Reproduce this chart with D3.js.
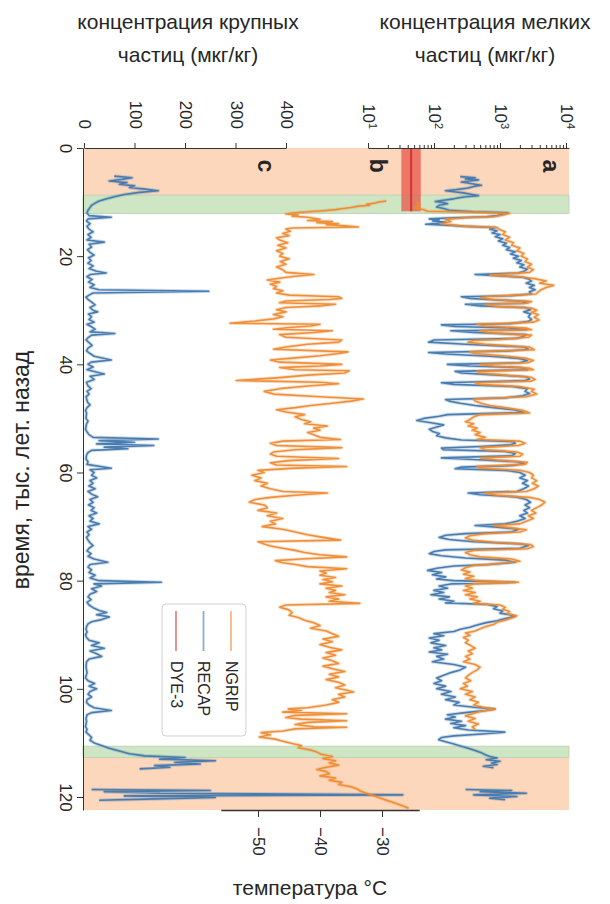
<!DOCTYPE html>
<html><head><meta charset="utf-8">
<script src="https://cdn.jsdelivr.net/npm/d3@7"></script>
<style>
body{margin:0;background:#fff;}
svg text{font-family:"Liberation Sans",Arial,sans-serif;fill:#262626;}
</style></head><body>
<svg id="chart" width="610" height="904"></svg>
<script>
// ---------- DATA ----------
const timeTicks = [0, 20, 40, 60, 80, 100, 120];
const coarseTicks = [0, 100, 200, 300, 400];
const fineTicks = [10, 100, 1000, 10000];
const tempTicks = [-50, -40, -30];
const peachBands = [[0, 8.7], [112.7, 122.4]];
const greenBands = [[8.7, 12.1], [110.6, 112.7]];
const panelLabels = ["a", "b", "c"];
const seriesNames = ["NGRIP", "RECAP", "DYE-3"];
const dye3Ages = [0, 11.7];
const dye3Range = [32, 63];
const dye3Mean = 45;

// RECAP coarse particles (µg/kg) [age ka, value]
const recapCoarse = [[5.2,60],[5.5,95],[5.8,75],[6.1,50],[6.4,85],[6.7,70],[7.0,100],[7.3,90],[7.6,120],[7.9,147],[8.2,110],[8.6,80],[9.0,60],[9.4,45],[9.8,30],[10.2,22],[10.6,15],[11.0,12],[11.5,8],[12.0,6],[12.5,10],[12.8,54],[13.1,8],[13.5,5],[14,12],[14.5,6],[15,10],[15.5,18],[16,8],[16.5,14],[17,6],[17.4,40],[17.8,10],[18.3,15],[18.8,7],[19.3,12],[19.8,20],[20.3,9],[20.8,14],[21.3,8],[21.8,18],[22.3,10],[22.8,25],[23.1,44],[23.4,12],[23.8,6],[24.3,16],[24.8,9],[25.3,20],[25.8,12],[26.2,30],[26.5,247],[26.8,18],[27.2,10],[27.6,4],[28.0,8],[28.5,15],[29,22],[29.5,12],[30.0,18],[30.3,27],[30.7,9],[31.2,15],[31.7,10],[32.2,20],[32.6,6],[33.0,14],[33.5,22],[34.0,12],[34.3,61],[34.6,15],[35.0,9],[35.5,4],[36,10],[36.5,16],[37,8],[37.5,5],[38,12],[38.5,20],[39.2,54],[39.6,14],[40,8],[40.5,18],[41,6],[41.8,40],[42.2,12],[42.8,20],[43.3,5],[44,8],[44.5,14],[45,6],[45.5,10],[46,4],[47,7],[47.5,12],[48,6],[48.5,3],[49,5],[50,4],[50.5,8],[51,5],[52,3],[52.5,6],[53,10],[53.5,18],[53.8,147],[54.1,30],[54.4,100],[54.7,25],[55.0,138],[55.3,40],[55.6,87],[55.9,15],[56.3,8],[56.8,5],[57.5,4],[58,8],[58.5,6],[59.2,54],[59.5,12],[60,20],[60.5,15],[61,25],[61.5,12],[62,18],[62.5,10],[63,22],[63.5,8],[64,15],[64.5,27],[65,12],[65.5,18],[66,9],[66.5,20],[67,14],[67.5,25],[68,10],[68.5,18],[69,12],[69.5,30],[70,8],[70.5,15],[71,6],[71.5,10],[72,5],[72.5,8],[73,12],[73.5,18],[74,10],[74.5,6],[75,14],[75.5,8],[76,20],[76.6,47],[77,12],[77.5,8],[78,15],[78.5,10],[79,22],[79.5,12],[80,30],[80.3,153],[80.6,20],[81,35],[81.5,15],[82,25],[82.5,12],[83,8],[83.5,14],[84,6],[84.5,10],[85,18],[85.5,30],[85.9,45],[86.3,25],[86.7,50],[87.2,35],[87.6,15],[88,8],[88.5,5],[89,4],[89.5,6],[90,3],[90.5,5],[91,10],[91.5,30],[92,15],[92.5,40],[93,12],[93.5,25],[94,35],[94.5,10],[95,5],[96,4],[97,6],[98,3],[98.5,8],[99,21],[99.5,10],[100,25],[100.5,12],[101,8],[101.5,15],[102,6],[102.5,5],[103,10],[103.5,20],[104,54],[104.4,15],[104.8,6],[105.5,4],[106,5],[107,3],[107.5,6],[108,4],[108.5,10],[109,15],[109.5,12],[110,20],[110.5,35],[111,50],[111.5,70],[112,90],[112.4,120],[112.7,200],[113,150],[113.3,260],[113.6,180],[113.9,230],[114.2,140],[114.5,170],[114.8,110],[115.0,null],[118.6,15],[118.8,250],[119.0,40],[119.3,150],[119.6,631],[119.8,80],[120.1,260],[120.4,120],[120.6,30]];

// NGRIP temperature (°C)
const ngripTemp = [[9.8,-29.3],[10.0,-30.5],[10.2,-31.2],[10.4,-32.5],[10.6,-32],[10.8,-34],[11.0,-35],[11.2,-36.2],[11.4,-37.5],[11.6,-39.5],[11.8,-42],[12.0,-44],[12.2,-45.5],[12.4,-43.5],[12.6,-44.5],[12.8,-42],[13.0,-41],[13.2,-40],[13.4,-42],[13.6,-38],[13.8,-40.5],[14.0,-37],[14.2,-39],[14.4,-36],[14.6,-33.8],[14.8,-44.5],[15.0,-45.5],[15.4,-44.8],[15.8,-46],[16.2,-45],[16.6,-47],[17.0,-46.5],[17.5,-45.2],[18.0,-46.8],[18.5,-45.5],[19.0,-47],[19.5,-46],[20,-46.5],[20.5,-45],[21,-46.4],[21.5,-45.5],[22,-47],[22.5,-46],[23.0,-45.5],[23.4,-41],[23.7,-44],[24.0,-46],[24.4,-48.5],[24.8,-46.5],[25.2,-48],[25.6,-47],[26.0,-47.5],[26.4,-46],[26.8,-47],[27.2,-45],[27.5,-37],[27.8,-36.5],[28.0,-38.5],[28.3,-45.5],[28.6,-46.5],[28.9,-37.5],[29.2,-40],[29.5,-45.5],[29.9,-47],[30.3,-45.5],[30.8,-47.5],[31.2,-46],[31.6,-47.5],[32.0,-50.5],[32.4,-54.5],[32.6,-40],[32.9,-41.5],[33.2,-45],[33.5,-47.5],[33.8,-38],[34.1,-41],[34.5,-46.5],[35.0,-45.5],[35.5,-36.5],[35.9,-37],[36.3,-42],[36.8,-45.5],[37.2,-47.5],[37.7,-35.5],[38.0,-37],[38.4,-40],[38.8,-44],[39.2,-48],[39.6,-46.5],[40.0,-36.5],[40.3,-40],[40.6,-46.5],[41.0,-44],[41.2,-35.3],[41.6,-36],[42.0,-42],[42.5,-47],[43.0,-53.5],[43.3,-40],[43.6,-37],[44.0,-42],[44.5,-46.5],[45.0,-49],[45.5,-47.5],[46.0,-40],[46.4,-33],[46.8,-35],[47.2,-38],[47.6,-41.5],[48.0,-44],[48.4,-47],[48.8,-45.5],[49.3,-42.5],[49.7,-44],[50.2,-43],[50.6,-41.5],[51.0,-42.5],[51.4,-38.8],[51.8,-41],[52.2,-40],[52.6,-42],[53.0,-41],[53.5,-40],[53.9,-36.7],[54.2,-46],[54.6,-48],[55.0,-47],[55.4,-36.5],[55.8,-44],[56.2,-47.5],[56.6,-48],[57.0,-47],[57.4,-37],[57.8,-45],[58.2,-48],[58.6,-47],[58.9,-35.7],[59.2,-44],[59.6,-50],[60.0,-49],[60.5,-51],[61.0,-49.5],[61.5,-50.5],[62.0,-48.5],[62.5,-49.5],[63.0,-48],[63.5,-46],[63.8,-38.8],[64.2,-44],[64.6,-48],[65.0,-50.5],[65.5,-51.4],[66.0,-49],[66.5,-48.5],[67.0,-50],[67.5,-47],[68.0,-48.5],[68.5,-46],[69.0,-48],[69.5,-47.2],[70.0,-49.3],[70.5,-46],[71.0,-44],[71.5,-42],[72.0,-39.5],[72.5,-36.7],[72.8,-50],[73.2,-49],[73.6,-48],[74.0,-46],[74.4,-44],[74.8,-42.5],[75.2,-40],[75.6,-35.7],[76.0,-43],[76.3,-47.2],[76.7,-46],[77.0,-44],[77.4,-42],[77.8,-35.7],[78.2,-40],[78.6,-39],[79.0,-40],[79.4,-37.5],[79.8,-39.5],[80.2,-38],[80.6,-40],[81.0,-36.5],[81.4,-39],[81.8,-37.5],[82.2,-38.5],[82.6,-36],[83.0,-39],[83.4,-37],[83.8,-38.5],[84.2,-33.6],[84.5,-45.5],[84.9,-46.5],[85.4,-45],[85.9,-44.5],[86.4,-45],[86.8,-43.5],[87.3,-42.5],[87.8,-41],[88.3,-40],[88.8,-41.5],[89.3,-39],[89.8,-38],[90.3,-37],[90.8,-39.5],[91.3,-38],[91.8,-40],[92.3,-38.5],[92.8,-36.5],[93.3,-39],[93.8,-37.5],[94.3,-39.5],[94.8,-38],[95.3,-37],[95.8,-39.5],[96.3,-38],[96.8,-36],[97.3,-38.5],[97.8,-37],[98.3,-39],[98.8,-37],[99.3,-36],[99.8,-37.5],[100.3,-35.5],[100.6,-34.6],[101.0,-37],[101.5,-36],[102.0,-38],[102.5,-37],[103.0,-39],[103.5,-42],[103.7,-45.1],[104.0,-43],[104.3,-46],[104.6,-35.7],[104.9,-44],[105.3,-45.5],[105.6,-43],[105.9,-35.7],[106.2,-42],[106.6,-44],[107.0,-41],[107.1,-35.7],[107.4,-44],[107.8,-46],[108.1,-49.5],[108.5,-48],[108.9,-49.8],[109.3,-47.2],[109.7,-46],[110.1,-44.5],[110.5,-43],[110.9,-43.5],[111.3,-41.5],[111.7,-40.5],[112.1,-39.8],[112.5,-38],[112.9,-39.5],[113.3,-37.5],[113.7,-38.5],[114.1,-37],[114.5,-39],[114.9,-40.5],[115.3,-39],[115.7,-38.5],[116.1,-40],[116.5,-37.5],[116.9,-38.5],[117.3,-36.5],[117.7,-37],[118.1,-35],[118.5,-34],[118.9,-33.5],[119.3,-32.5],[119.7,-31.5],[120.1,-30.5],[120.5,-29.5],[120.9,-28.5],[121.3,-27.5],[121.7,-26.5],[122.1,-25.7]];

// RECAP fine particles (µg/kg)
const recapFine = [[5.3,250],[5.5,420],[5.7,300],[5.9,470],[6.1,350],[6.3,260],[6.6,380],[6.9,520],[7.1,400],[7.4,330],[7.7,220],[7.9,150],[8.1,200],[8.3,280],[8.6,380],[8.8,470],[9.0,300],[9.2,240],[9.4,200],[9.7,130],[9.9,105],[10.1,140],[10.3,160],[10.6,120],[10.9,110],[11.2,140],[11.5,170],[11.8,400],[12.0,1300],[12.2,1150],[12.5,900],[12.7,620],[12.9,200],[13.1,85],[13.3,120],[13.5,95],[13.7,150],[13.9,110],[14.1,75],[14.3,180],[14.5,300],[14.7,850],[15.0,700],[15.3,900],[15.7,760],[16.0,1000],[16.4,850],[16.8,1100],[17.2,950],[17.6,1250],[18.0,1100],[18.4,1400],[18.8,1250],[19.2,1700],[19.6,1450],[20.0,1900],[20.4,1600],[20.8,2100],[21.2,1800],[21.6,2300],[22.0,2000],[22.4,2600],[22.8,2300],[23.1,1900],[23.4,420],[23.6,900],[23.9,2200],[24.2,2700],[24.6,3000],[25.0,2500],[25.4,3300],[25.8,2800],[26.2,3400],[26.6,2800],[27.0,3000],[27.3,1500],[27.5,260],[27.8,350],[28.1,900],[28.4,2600],[28.7,2200],[28.9,300],[29.2,500],[29.5,2400],[29.9,2900],[30.3,2300],[30.7,2900],[31.2,2700],[31.7,3000],[32.1,2600],[32.5,1400],[32.7,130],[33.0,210],[33.3,1500],[33.6,2500],[33.8,180],[34.1,400],[34.5,2500],[34.9,2200],[35.2,1800],[35.5,100],[35.9,83],[36.3,300],[36.8,2300],[37.2,2700],[37.5,1500],[37.8,83],[38.1,150],[38.5,700],[38.9,1900],[39.3,2600],[39.7,2000],[40.0,160],[40.3,350],[40.6,2100],[41.0,2600],[41.3,210],[41.6,260],[41.9,700],[42.3,2500],[42.7,2800],[43.0,2400],[43.4,130],[43.7,200],[44.1,1500],[44.5,2600],[45.0,2400],[45.4,2800],[45.8,2200],[46.2,1200],[46.5,150],[46.8,170],[47.2,250],[47.6,420],[48.0,800],[48.4,1600],[48.9,2300],[49.3,160],[49.6,120],[50.0,70],[50.4,55],[50.8,90],[51.2,140],[51.6,110],[52.0,85],[52.4,95],[52.8,120],[53.2,110],[53.6,150],[54.0,260],[54.3,1600],[54.6,1700],[54.9,1400],[55.2,500],[55.5,130],[55.8,140],[56.1,1200],[56.5,1700],[56.9,1500],[57.3,130],[57.6,400],[58.0,1800],[58.3,2300],[58.7,1600],[59.0,260],[59.3,210],[59.6,1200],[60.0,2000],[60.5,2400],[61.0,2000],[61.5,2600],[62.0,2200],[62.5,2700],[63.0,2300],[63.5,1800],[63.8,330],[64.1,500],[64.5,1700],[65.0,2500],[65.5,2900],[66.0,2400],[66.5,2800],[67.0,2300],[67.5,2600],[68.0,2000],[68.5,2400],[69.0,1800],[69.5,1200],[69.8,420],[70.1,900],[70.5,1900],[71.0,1500],[71.3,300],[71.6,150],[72.0,120],[72.4,170],[72.8,400],[73.2,2100],[73.5,2700],[74.0,2000],[74.3,150],[74.6,100],[75.0,85],[75.4,130],[75.8,300],[76.2,1200],[76.6,1690],[77.0,700],[77.3,200],[77.7,110],[78.1,80],[78.5,130],[78.9,95],[79.3,150],[79.7,110],[80.0,200],[80.3,1690],[80.6,180],[81.0,120],[81.4,160],[81.8,100],[82.2,140],[82.6,90],[83.0,170],[83.4,120],[83.8,200],[84.1,150],[84.4,650],[84.8,900],[85.2,800],[85.6,1100],[86.0,1000],[86.3,1400],[86.6,1690],[87.0,1200],[87.4,900],[87.8,600],[88.2,450],[88.6,350],[89.0,250],[89.4,200],[89.8,100],[90.2,140],[90.6,85],[91.0,120],[91.5,90],[92.0,150],[92.4,100],[92.8,130],[93.2,85],[93.6,160],[94.0,110],[94.5,140],[95.0,95],[95.5,200],[96.0,300],[96.5,250],[97.0,180],[97.5,140],[98.0,110],[98.5,130],[99.0,100],[99.5,150],[100.0,110],[100.5,180],[101.0,130],[101.5,210],[102.0,150],[102.5,240],[103.0,200],[103.4,400],[103.7,835],[104.0,600],[104.4,300],[104.8,160],[105.2,210],[105.6,150],[106.0,260],[106.4,180],[106.8,300],[107.2,200],[107.6,330],[108.0,1180],[108.3,600],[108.7,200],[109.0,130],[109.4,118],[109.8,150],[110.2,200],[110.6,260],[111.0,330],[111.4,420],[111.8,520],[112.2,600],[112.5,700],[112.8,900],[113.1,620],[113.4,1000],[113.7,750],[114.0,900],[114.3,560],[114.6,800],[114.8,null],[118.6,300],[118.8,1500],[119.0,500],[119.3,2500],[119.6,400],[119.9,1800],[120.2,700],[120.5,1200]];

// NGRIP fine particles (µg/kg)
const ngripFine = [[10.0,55],[10.5,60],[11.0,52],[11.4,70],[11.7,80],[11.9,600],[12.1,1400],[12.4,1100],[12.7,800],[12.9,300],[13.2,150],[13.6,180],[14.0,130],[14.4,250],[14.7,900],[15.1,1000],[15.5,1200],[16.0,1100],[16.5,1400],[17.0,1200],[17.5,1600],[18.0,1500],[18.5,2000],[19.0,1800],[19.5,2300],[20.0,2100],[20.5,2600],[21.0,2400],[21.5,3000],[22.0,2600],[22.5,3200],[23.0,2800],[23.3,1200],[23.5,700],[23.8,2000],[24.2,3500],[24.6,5000],[25.0,4000],[25.4,6500],[25.8,5000],[26.2,4200],[26.6,3800],[27.0,3500],[27.4,700],[27.7,500],[28.0,800],[28.4,3000],[28.7,2600],[28.9,600],[29.3,900],[29.6,3000],[30.0,3600],[30.4,3000],[30.8,3800],[31.3,3300],[31.8,3900],[32.2,3200],[32.6,450],[32.9,600],[33.3,2500],[33.6,3000],[33.8,500],[34.2,700],[34.6,3000],[35.0,2700],[35.4,1000],[35.6,400],[35.9,330],[36.3,600],[36.8,2800],[37.3,3300],[37.7,350],[38.0,420],[38.4,1100],[38.9,2500],[39.3,3200],[39.7,2600],[40.0,500],[40.3,800],[40.7,2800],[41.0,3200],[41.3,450],[41.6,500],[42.0,1200],[42.4,3000],[42.8,3400],[43.1,3000],[43.4,420],[43.7,500],[44.1,2000],[44.6,3300],[45.0,3000],[45.5,3600],[46.0,2500],[46.4,400],[46.8,420],[47.2,520],[47.6,700],[48.0,1200],[48.5,2200],[49.0,2800],[49.3,500],[49.7,400],[50.2,350],[50.6,300],[51.0,400],[51.4,330],[51.8,450],[52.2,380],[52.6,500],[53.0,420],[53.5,600],[53.9,450],[54.2,2000],[54.6,2400],[55.0,1900],[55.4,500],[55.8,600],[56.2,1800],[56.6,2200],[57.0,2000],[57.3,500],[57.7,900],[58.1,2600],[58.5,2400],[58.9,450],[59.2,500],[59.6,2000],[60.0,2800],[60.5,3200],[61.0,3000],[61.5,3600],[62.0,3100],[62.5,3800],[63.0,3300],[63.5,2500],[63.8,600],[64.2,900],[64.6,2800],[65.0,4000],[65.5,4800],[66.0,4300],[66.5,3600],[67.0,3000],[67.5,3500],[68.0,2700],[68.5,3200],[69.0,2500],[69.5,2000],[69.8,800],[70.2,1400],[70.6,2500],[71.0,2000],[71.3,600],[71.7,350],[72.1,300],[72.5,380],[72.9,800],[73.3,2900],[73.7,3200],[74.1,2600],[74.4,400],[74.8,300],[75.2,350],[75.6,500],[76.0,1500],[76.4,2000],[76.8,1000],[77.2,400],[77.6,300],[78.0,260],[78.4,350],[78.8,280],[79.2,400],[79.6,300],[80.0,450],[80.3,1900],[80.6,400],[81.0,300],[81.4,380],[81.8,280],[82.2,420],[82.6,300],[83.0,450],[83.4,350],[83.8,500],[84.2,400],[84.5,1000],[84.9,1200],[85.3,1100],[85.7,1400],[86.1,1300],[86.5,1800],[86.9,1500],[87.3,1200],[87.7,900],[88.1,800],[88.5,600],[88.9,500],[89.3,420],[89.7,300],[90.1,350],[90.5,280],[91.0,330],[91.5,300],[92.0,360],[92.5,420],[93.0,330],[93.5,380],[94.0,300],[94.5,350],[95.0,280],[95.5,420],[96.0,500],[96.5,450],[97.0,380],[97.5,330],[98.0,300],[98.5,360],[99.0,280],[99.5,320],[100.0,250],[100.5,380],[101.0,300],[101.5,420],[102.0,350],[102.5,470],[103.0,400],[103.5,600],[103.8,835],[104.2,500],[104.6,380],[105.0,300],[105.5,420],[106.0,330],[106.5,470],[107.0,380],[107.5,420]];

// ---------- CHART ----------
const svg = d3.select("#chart");
const C = {orange:"#ee8a30", blue:"#4177ad", red:"#cf3b35", peach:"#fcd7bb", green:"#cfe6c5", axis:"#333"};

const tMax = 122.4;
const y = d3.scaleLinear().domain([0, 120]).range([148, 797]);
const xCoarse = d3.scaleLinear().domain([0, 400]).range([84, 286]);
const xTemp = d3.scaleLinear().domain([-50, -30]).range([258, 382]);
const xFine = d3.scaleLog().domain([10, 10000]).range([368, 566]);
const plotLeft = 83, plotRight = 569;

// background bands
const bg = svg.append("g");
bg.selectAll("rect.peach").data(peachBands).join("rect")
  .attr("x", plotLeft).attr("width", plotRight - plotLeft)
  .attr("y", d => y(d[0])).attr("height", d => y(d[1]) - y(d[0]))
  .attr("fill", C.peach);
bg.selectAll("rect.green").data(greenBands).join("rect")
  .attr("x", plotLeft).attr("width", plotRight - plotLeft)
  .attr("y", d => y(d[0])).attr("height", d => y(d[1]) - y(d[0]))
  .attr("fill", C.green).attr("stroke", "#b9cdb0").attr("stroke-width", 0.8);

// DYE-3 band
svg.append("rect")
  .attr("x", xFine(dye3Range[0])).attr("width", xFine(dye3Range[1]) - xFine(dye3Range[0]))
  .attr("y", y(dye3Ages[0])).attr("height", y(dye3Ages[1]) - y(dye3Ages[0]))
  .attr("fill", "#e8554a").attr("opacity", 0.75);
svg.append("line")
  .attr("x1", xFine(dye3Mean)).attr("x2", xFine(dye3Mean))
  .attr("y1", y(dye3Ages[0])).attr("y2", y(dye3Ages[1]))
  .attr("stroke", C.red).attr("stroke-width", 2.2);

function drawSeries(data, xs, color) {
  const line = d3.line().defined(d => d[1] != null).x(d => xs(d[1])).y(d => y(d[0]));
  svg.append("path").datum(data).attr("d", line).attr("fill", "none")
    .attr("stroke", color).attr("stroke-width", 3.6).attr("opacity", 0.25).attr("stroke-linejoin", "round");
  svg.append("path").datum(data).attr("d", line).attr("fill", "none")
    .attr("stroke", color).attr("stroke-width", 1.6).attr("opacity", 0.95).attr("stroke-linejoin", "round");
}
drawSeries(recapCoarse, xCoarse, C.blue);
drawSeries(ngripTemp, xTemp, C.orange);
drawSeries(recapFine, xFine, C.blue);
drawSeries(ngripFine, xFine, C.orange);

// ---------- AXES ----------
const fs = 17;
// time axis (left)
const yAxisScale = y.copy().domain([0, tMax]).range([y(0), y(tMax)]);
const gT = svg.append("g").attr("transform", `translate(${plotLeft},0)`)
  .call(d3.axisLeft(yAxisScale).tickValues(timeTicks).tickSize(6).tickSizeOuter(0));
gT.selectAll("text").attr("x", 0).attr("y", 0).attr("dy", null)
  .attr("transform", "translate(-18,0) rotate(90)")
  .attr("text-anchor", "middle").attr("dominant-baseline", "central")
  .style("font-size", fs + "px");

// coarse axis (top)
const gC = svg.append("g").attr("transform", `translate(0,${y(0)})`)
  .call(d3.axisTop(xCoarse).tickValues(coarseTicks).tickSize(5).tickSizeOuter(0));
gC.selectAll("text").attr("x", 0).attr("y", 0).attr("dy", null)
  .attr("transform", "translate(0,-19) rotate(90)")
  .attr("text-anchor", "end").attr("dominant-baseline", "central")
  .style("font-size", fs + "px");

// fine log axis (top)
const fineAll = [];
fineTicks.forEach((d, i) => { fineAll.push(d); if (i < fineTicks.length - 1) for (let k = 2; k < 10; k++) fineAll.push(d * k); });
const fineAxisScale = xFine.copy().domain([10, xFine.invert(569)]).range([368, 569]);
const gF = svg.append("g").attr("transform", `translate(0,${y(0)})`)
  .call(d3.axisTop(fineAxisScale).tickValues(fineAll).tickSize(5).tickSizeOuter(0).tickFormat(""));
gF.selectAll(".tick line").attr("y2", d => fineTicks.includes(d) ? -5 : -3);
gF.selectAll(".tick text").remove();
gF.selectAll(".tick").filter(d => fineTicks.includes(d)).append("text")
  .attr("transform", "translate(0,-19) rotate(90)")
  .attr("text-anchor", "end").attr("dominant-baseline", "central")
  .style("font-size", fs + "px").attr("fill", "#262626")
  .each(function(d) {
    const t = d3.select(this);
    t.append("tspan").text("10");
    t.append("tspan").attr("dy", "-0.45em").style("font-size", "11px").text(Math.round(Math.log10(d)));
  });

// temperature axis (bottom)
const tempAxisScale = xTemp.copy().domain([-56, -24]).range([xTemp(-56), xTemp(-24)]);
const gB = svg.append("g").attr("transform", `translate(0,${y(tMax)})`)
  .call(d3.axisBottom(tempAxisScale).tickValues(tempTicks).tickSize(7).tickSizeOuter(0)
    .tickFormat(d => "\u2212" + Math.abs(d)));
gB.select(".domain").attr("stroke-width", 1.6);
gB.selectAll("text").attr("x", 0).attr("y", 0).attr("dy", null)
  .attr("transform", "translate(0,17) rotate(90)")
  .attr("text-anchor", "start").attr("dominant-baseline", "central")
  .style("font-size", fs + "px");

[gT, gC, gF, gB].forEach(g => {
  g.selectAll(".domain").attr("stroke", C.axis);
  g.selectAll(".tick line").attr("stroke", C.axis);
  g.selectAll("text").attr("fill", "#262626").style("font-family", "'Liberation Sans',Arial,sans-serif");
});

// panel labels
const panelPos = [xFine(3000) + 20, xFine(10) + 10, xCoarse(360)];
panelLabels.forEach((p, i) => {
  svg.append("text").attr("transform", `translate(${panelPos[i]},${y(3.3)}) rotate(90)`)
    .attr("text-anchor", "middle").attr("dominant-baseline", "central")
    .style("font-size", "23px").style("font-weight", "bold").attr("fill", "#111").text(p);
});

// legend
const lg = svg.append("g");
lg.append("rect").attr("x", 162).attr("y", 604).attr("width", 84).attr("height", 132).attr("rx", 4)
  .attr("fill", "#fff").attr("fill-opacity", 0.85).attr("stroke", "#d0d0d0");
const legColors = [C.orange, C.blue, C.red];
seriesNames.forEach((n, i) => {
  const lx = 231 - i * 27.5;
  lg.append("line").attr("x1", lx).attr("x2", lx).attr("y1", 611).attr("y2", 651)
    .attr("stroke", legColors[i]).attr("stroke-width", 1.8).attr("opacity", 0.6);
  lg.append("text").attr("transform", `translate(${lx},661) rotate(90)`)
    .attr("text-anchor", "start").attr("dominant-baseline", "central")
    .style("font-size", "16px").text(n);
});

// titles
const titles = [
  {x: 188, lines: ["концентрация крупных", "частиц (мкг/кг)"]},
  {x: 485, lines: ["концентрация мелких", "частиц (мкг/кг)"]}
];
titles.forEach(t => t.lines.forEach((l, i) => {
  svg.append("text").attr("x", t.x).attr("y", 29 + i * 33).attr("text-anchor", "middle")
    .style("font-size", "21px").text(l);
}));
svg.append("text").attr("transform", "translate(21,470) rotate(-90)")
  .attr("text-anchor", "middle").attr("dominant-baseline", "central")
  .style("font-size", "23px").text("время, тыс. лет. назад");
svg.append("text").attr("x", 310).attr("y", 895).attr("text-anchor", "middle")
  .style("font-size", "21px").text("температура °C");
</script></body></html>
